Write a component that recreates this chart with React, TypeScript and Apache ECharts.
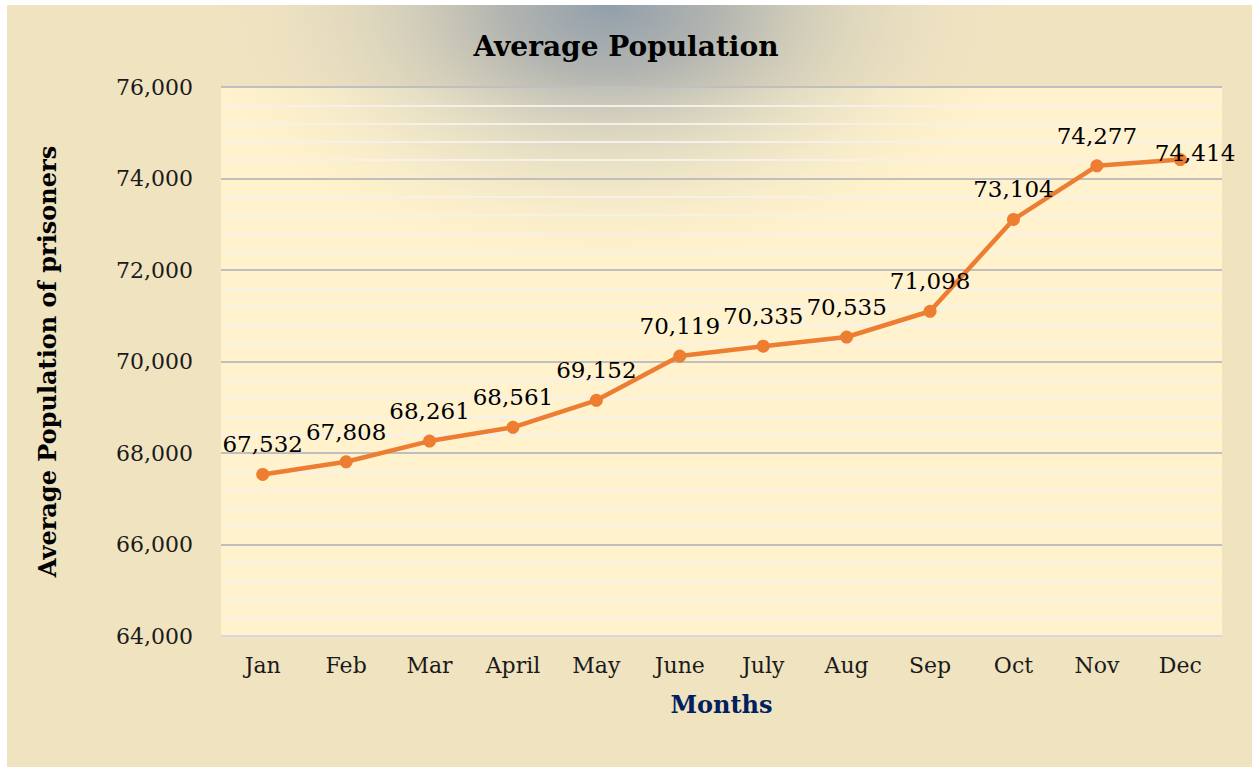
import React, { useEffect, useRef } from "react";
import * as echarts from "echarts";

const months = ["Jan", "Feb", "Mar", "April", "May", "June", "July", "Aug", "Sep", "Oct", "Nov", "Dec"];
const population = [67532, 67808, 68261, 68561, 69152, 70119, 70335, 70535, 71098, 73104, 74277, 74414];
const yMin = 64000;
const yMax = 76000;
const yStep = 2000;

const W = 1252;
const H = 767;
const GRID = { left: 221, top: 87, right: 30, bottom: 131 };
const FONT = "'DejaVu Serif', serif";

const fmt = (v: number) => v.toLocaleString("en-US");

export default function App() {
  const ref = useRef<HTMLDivElement>(null);
  useEffect(() => {
    document.body.style.margin = "0";
    const chart = echarts.init(ref.current!, null, { renderer: "svg" });
    const plotW = W - GRID.left - GRID.right;
    const plotH = H - GRID.top - GRID.bottom;
    chart.setOption({
      animation: false,
      graphic: [
        { type: "rect", z: -30, silent: true, shape: { x: 7, y: 5, width: W - 7, height: H - 5 }, style: { fill: "#F0E3C0" } },
        { type: "rect", z: -20, silent: true, shape: { x: GRID.left, y: GRID.top, width: plotW, height: plotH }, style: { fill: "#FFF2CC" } },
        {
          type: "rect",
          z: -10,
          silent: true,
          shape: { x: 180, y: 5, width: 860, height: 540 },
          style: {
            fill: {
              type: "radial",
              x: 0.5,
              y: 0,
              r: 0.5,
              colorStops: [
                { offset: 0, color: "rgba(140,155,170,0.95)" },
                { offset: 0.25, color: "rgba(162,168,172,0.8)" },
                { offset: 0.55, color: "rgba(198,198,186,0.45)" },
                { offset: 0.85, color: "rgba(230,222,196,0.12)" },
                { offset: 1, color: "rgba(240,227,192,0)" },
              ],
            },
          },
        },
      ],
      title: {
        text: "Average Population",
        left: "center",
        top: 27,
        textStyle: { fontFamily: FONT, fontWeight: "bold", fontSize: 28, color: "#000" },
      },
      grid: { ...GRID },
      xAxis: {
        type: "category",
        data: months,
        boundaryGap: true,
        name: "Months",
        nameLocation: "middle",
        nameGap: 56,
        nameTextStyle: { fontFamily: FONT, fontWeight: "bold", fontSize: 24, color: "#002060" },
        axisLine: { show: false },
        axisTick: { show: false },
        axisLabel: { fontFamily: FONT, fontSize: 22, color: "#1a1a1a", margin: 18 },
      },
      yAxis: {
        type: "value",
        min: yMin,
        max: yMax,
        interval: yStep,
        name: "Average Population of prisoners",
        nameLocation: "middle",
        nameRotate: 90,
        nameGap: 162,
        nameTextStyle: { fontFamily: FONT, fontWeight: "bold", fontSize: 24, color: "#000" },
        axisLine: { show: false },
        axisTick: { show: false },
        axisLabel: { fontFamily: FONT, fontSize: 22, color: "#1a1a1a", margin: 28, formatter: (v: number) => fmt(v) },
        splitLine: {
          show: true,
          lineStyle: { color: ["#D6D8DE", "#BFBFBF", "#BFBFBF", "#BFBFBF", "#BFBFBF", "#BFBFBF", "#BFBFBF"], width: 2 },
        },
        minorTick: { show: false, splitNumber: 5 },
        minorSplitLine: { show: true, lineStyle: { color: "#F5F1E8", width: 2 } },
      },
      series: [
        {
          type: "line",
          data: population.map((v, i) =>
            i === population.length - 1
              ? { value: v, label: { position: "right", offset: [-44, -7] } }
              : v
          ),
          symbol: "circle",
          symbolSize: 13,
          lineStyle: { color: "#ED7D31", width: 4.5 },
          itemStyle: { color: "#ED7D31" },
          label: {
            show: true,
            position: "top",
            distance: 12,
            fontFamily: FONT,
            fontSize: 23,
            color: "#000",
            formatter: (p: any) => fmt(p.value),
          },
        },
      ],
    });
    return () => chart.dispose();
  }, []);
  return <div ref={ref} style={{ width: W, height: H, background: "#fff" }} />;
}
